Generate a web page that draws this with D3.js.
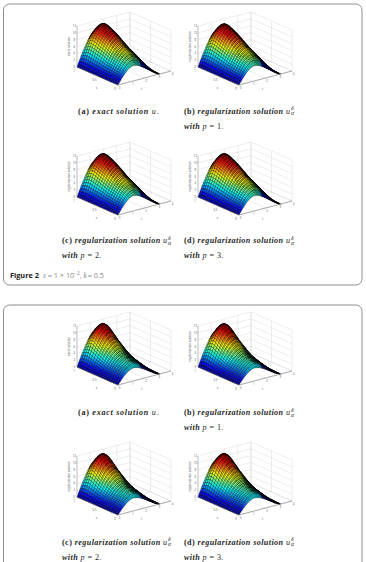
<!DOCTYPE html>
<html>
<head>
<meta charset="utf-8">
<script src="https://cdn.jsdelivr.net/npm/d3@7"></script>
<style>
html,body{margin:0;padding:0;background:#fff;}
svg{display:block;}
</style>
</head>
<body>
<svg id="page" width="366" height="562"></svg>
<script>
// Time samples along the long axis.
const tSamples = [0,0.08,0.16,0.24,0.31,0.39,0.47,0.55,0.63,0.71,0.79,0.86,0.94,1.02,1.10,1.18,1.26,1.34,1.41,1.49,1.57,
  1.65,1.73,1.81,1.88,1.96,2.04,2.12,2.20,2.28,2.36,2.43,2.51,2.59,2.67,2.75,2.83,2.91,2.98,3.06,3.14];
// Height of the hump along t, relative to its peak.
const tProfile = [0,0.08,0.16,0.23,0.31,0.38,0.45,0.52,0.59,0.65,0.71,0.76,0.81,0.85,0.89,0.92,0.95,0.97,0.99,1,1,
  0.98,0.96,0.93,0.89,0.85,0.80,0.74,0.68,0.62,0.55,0.49,0.43,0.36,0.30,0.24,0.18,0.13,0.08,0.04,0];
// Samples across the short axis.
const xSamples = [0,0.05,0.1,0.15,0.2,0.25,0.3,0.35,0.4,0.45,0.5,0.55,0.6,0.65,0.7,0.75,0.8,0.85,0.9,0.95,1];
// Cross-section of the surface for the first figure and the second.
const xProfileUpper = [0.38,0.48,0.53,0.56,0.60,0.63,0.66,0.68,0.71,0.75,0.79,0.83,0.87,0.90,0.93,0.96,0.99,1,0.97,0.90,0.80];
const xProfileLower = [0.32,0.40,0.42,0.43,0.45,0.46,0.48,0.50,0.53,0.57,0.62,0.68,0.73,0.77,0.85,0.90,0.97,1,0.97,0.90,0.80];
// Time at which the hump crests, for each cross-section sample.
const crestTimes = [1.20,1.28,1.34,1.38,1.42,1.45,1.47,1.49,1.51,1.53,1.54,1.55,1.56,1.57,1.57,1.57,1.57,1.57,1.57,1.57,1.57];
// Peak value of each of the four panels.
const peakUpper = [11.9,11.8,11.85,11.85];
const peakLower = [11.9,11.85,11.85,11.9];

const zTicks = [0,2,4,6,8,10,12];
const xTicks = [0,0.5,1];
const xTickLabels = ["0","0.5","1"];
const tTicks = [0,1,2,3,4];
const zLabels = ["exact solution","regularization solution","regularization solution","regularization solution"];
const captionHeads = ["(a)","(b)","(c)","(d)"];
const captionWords = ["exact solution","regularization solution","regularization solution","regularization solution"];
const captionTail = ["with p = 1.","with p = 2.","with p = 3."];

// Jet colour ramp used by the surface.
const jetStops = [0,0.11,0.36,0.61,0.86,1];
const jetColors = ["#00008f","#0000ff","#00ffff","#ffff00","#ff0000","#800000"];

const svg = d3.select("#page");
const serif = "'Liberation Serif',serif";
const sans = "'Open Sans','Noto Sans',sans-serif";

const humpAt = d3.scaleLinear().domain(tSamples).range(tProfile);
const tEnd = tSamples[tSamples.length-1];
const tCrest = tSamples[20];
// Mesh lines merge where a cell is foreshortened to a sliver on screen.
const meshWidth = d3.scaleLinear().domain([0.6,2.6]).range([1.2,0.42]).clamp(true);

function drawFrame(y, h){
  svg.append("rect").attr("x",3.5).attr("y",y).attr("width",358.5).attr("height",h)
    .attr("rx",6).attr("fill","none").attr("stroke","#8f8f8f").attr("stroke-width",1);
}

// One surface panel; (ox,oy) is the nearest floor corner of the box.
// farShade dims the side of the hump that faces away from the viewer.
function drawSurface(ox, oy, xProfile, peak, zTitle, farShade){
  const g = svg.append("g").attr("transform",`translate(${ox},${oy})`);
  // Scales give pixel offsets along each projected box edge.
  const xToPx = d3.scaleLinear().domain([0,1]).range([0,-41]);
  const xToPy = d3.scaleLinear().domain([0,1]).range([0,-18]);
  const tToPx = d3.scaleLinear().domain([0,4]).range([0,53]);
  const tToPy = d3.scaleLinear().domain([0,4]).range([0,-14]);
  const zToPy = d3.scaleLinear().domain([0,12]).range([0,-41]);
  const project = (x,t,z) => [xToPx(x)+tToPx(t), xToPy(x)+tToPy(t)+zToPy(z)];
  const line = d3.line();
  const color = d3.scaleLinear().domain(jetStops.map(s=>s*peak)).range(jetColors).clamp(true);

  // Box walls and floor.
  const grid = g.append("g").attr("fill","none").attr("stroke","#cfcfcf").attr("stroke-width",0.35);
  const seg = (a,b) => grid.append("path").attr("d",line([a,b]));
  zTicks.forEach(z=>{
    seg(project(1,0,z),project(1,4,z));
    seg(project(1,4,z),project(0,4,z));
  });
  tTicks.forEach(t=>{
    seg(project(0,t,0),project(1,t,0));
    seg(project(1,t,0),project(1,t,12));
  });
  xTicks.forEach(x=>{
    seg(project(x,0,0),project(x,4,0));
    seg(project(x,4,0),project(x,4,12));
  });

  // The crest moves with x, so each cross-section reads the hump through its own phase.
  const height = (i,j) => {
    const phase = d3.scaleLinear().domain([0,crestTimes[j],tEnd]).range([0,tCrest,tEnd]);
    return peak*xProfile[j]*humpAt(phase(tSamples[i]));
  };

  // Surface cells, far corner first so nearer cells paint over them.
  const cells = [];
  for(let i=tSamples.length-2;i>=0;i--){
    for(let j=xSamples.length-2;j>=0;j--){
      const corner = (a,b)=>({t:tSamples[a],x:xSamples[b],z:height(a,b)});
      const pts = [corner(i,j),corner(i+1,j),corner(i+1,j+1),corner(i,j+1)];
      pts.past = tSamples[i]-crestTimes[j] > 0.45;
      cells.push(pts);
    }
  }
  const outline = c => c.map(p=>project(p.x,p.t,p.z));
  g.append("g").selectAll("path").data(cells).join("path")
    .attr("d",c=>line(outline(c))+"Z")
    .attr("fill",c=>color(d3.mean(c,p=>p.z)*(c.past?farShade:1)))
    .attr("stroke","#000").attr("stroke-opacity",0.8)
    .attr("stroke-width",c=>meshWidth(Math.abs(d3.polygonArea(outline(c)))));

  // Axis lines.
  const axis = g.append("g").attr("fill","none").attr("stroke","#555").attr("stroke-width",0.45);
  axis.append("path").attr("d",line([project(1,0,0),project(0,0,0),project(0,4,0)]));
  axis.append("path").attr("d",line([project(1,0,0),project(1,0,12)])).attr("stroke","#8a8a8a");

  // Tick labels.
  const labels = g.append("g").attr("font-family",sans).attr("font-size",2.9)
    .attr("fill","#555").attr("text-anchor","middle");
  zTicks.forEach(z=>{
    const p = project(1,0,z);
    labels.append("text").attr("x",p[0]-2.6).attr("y",p[1]+1).text(z);
  });
  xTicks.forEach((x,i)=>{
    const p = project(x,0,0);
    labels.append("text").attr("x",p[0]-3).attr("y",p[1]+4.5).text(xTickLabels[i]);
  });
  tTicks.forEach(t=>{
    const p = project(0,t,0);
    labels.append("text").attr("x",p[0]+1.5).attr("y",p[1]+3.8).text(t);
  });
  const xMid = project(0.5,0,0), tMid = project(0,2,0);
  labels.append("text").attr("x",xMid[0]-1).attr("y",xMid[1]+13).text("x");
  labels.append("text").attr("x",tMid[0]-3).attr("y",tMid[1]+12).text("t");
  const zMid = project(1,0,6);
  labels.append("text").attr("transform",`translate(${zMid[0]-7.4},${zMid[1]}) rotate(-90)`).text(zTitle);
}

// Caption with the u-delta-alpha symbol stacked after the wording.
function drawCaption(x, y, head, words, withSymbol, spacing){
  const t = svg.append("text").attr("x",x).attr("y",y).attr("font-family",serif)
    .attr("font-size",8.1).attr("fill","#1f1f1f").attr("letter-spacing",spacing);
  t.append("tspan").attr("font-weight","bold").text(head+" ");
  t.append("tspan").attr("font-weight","bold").attr("font-style","italic").text(words+" ");
  t.append("tspan").attr("font-style","italic").text("u");
  const end = x + t.node().getComputedTextLength() + 0.5;
  if(withSymbol){
    svg.append("text").attr("x",end).attr("y",y-3.4).attr("font-family",serif).attr("font-size",5.6)
      .attr("font-style","italic").attr("fill","#1f1f1f").text("δ");
    svg.append("text").attr("x",end).attr("y",y+1.8).attr("font-family",serif).attr("font-size",5.6)
      .attr("font-style","italic").attr("fill","#1f1f1f").text("α");
  } else {
    svg.append("text").attr("x",end).attr("y",y).attr("font-family",serif).attr("font-size",8.1)
      .attr("fill","#1f1f1f").text(".");
  }
}

function drawTail(x, y, text){
  const t = svg.append("text").attr("x",x).attr("y",y).attr("font-family",serif)
    .attr("font-size",8.1).attr("fill","#1f1f1f").attr("letter-spacing",0.42);
  const parts = text.split(" p ");
  t.append("tspan").attr("font-weight","bold").attr("font-style","italic").text(parts[0]+" ");
  t.append("tspan").attr("font-style","italic").text("p ");
  t.append("tspan").text(parts[1]);
}

function drawFigure(offsetY, xProfile, peaks, captionRows, farShade){
  const cols = [118,239];
  const rows = [85,215];
  [[0,0],[1,0],[0,1],[1,1]].forEach(([c,r],i)=>{
    drawSurface(cols[c], rows[r]+offsetY, xProfile, peaks[i], zLabels[i], farShade);
  });
  drawCaption(78, captionRows[0], captionHeads[0], captionWords[0], false, 0.72);
  drawCaption(184, captionRows[0], captionHeads[1], captionWords[1], true, 0.42);
  drawTail(184, captionRows[1], captionTail[0]);
  drawCaption(62, captionRows[2], captionHeads[2], captionWords[2], true, 0.42);
  drawCaption(184, captionRows[2], captionHeads[3], captionWords[3], true, 0.42);
  drawTail(62, captionRows[3], captionTail[1]);
  drawTail(184, captionRows[3], captionTail[2]);
}

drawFrame(4,281);
drawFrame(305,290);
drawFigure(0, xProfileUpper, peakUpper, [113.5,128.5,243,258], 0.25);
drawFigure(300, xProfileLower, peakLower, [415,430,544.5,559.5], 0.02);

// Figure note under the first group of panels.
const note = svg.append("text").attr("x",10).attr("y",277.5).attr("font-family",sans).attr("font-size",7.3).attr("fill","#8a8a8a");
note.append("tspan").attr("font-weight","bold").attr("fill","#222").text("Figure 2");
note.append("tspan").attr("dx",4.5).attr("font-family",serif).attr("font-style","italic").text("ε");
note.append("tspan").attr("dx",1.5).text("= 1 × 10");
note.append("tspan").attr("dy",-2.6).attr("font-size",4.8).text("−2");
note.append("tspan").attr("dy",2.6).text(", ");
note.append("tspan").attr("font-family",serif).attr("font-style","italic").text("k");
note.append("tspan").attr("dx",0.8).text("= 0.5");
</script>
</body>
</html>
